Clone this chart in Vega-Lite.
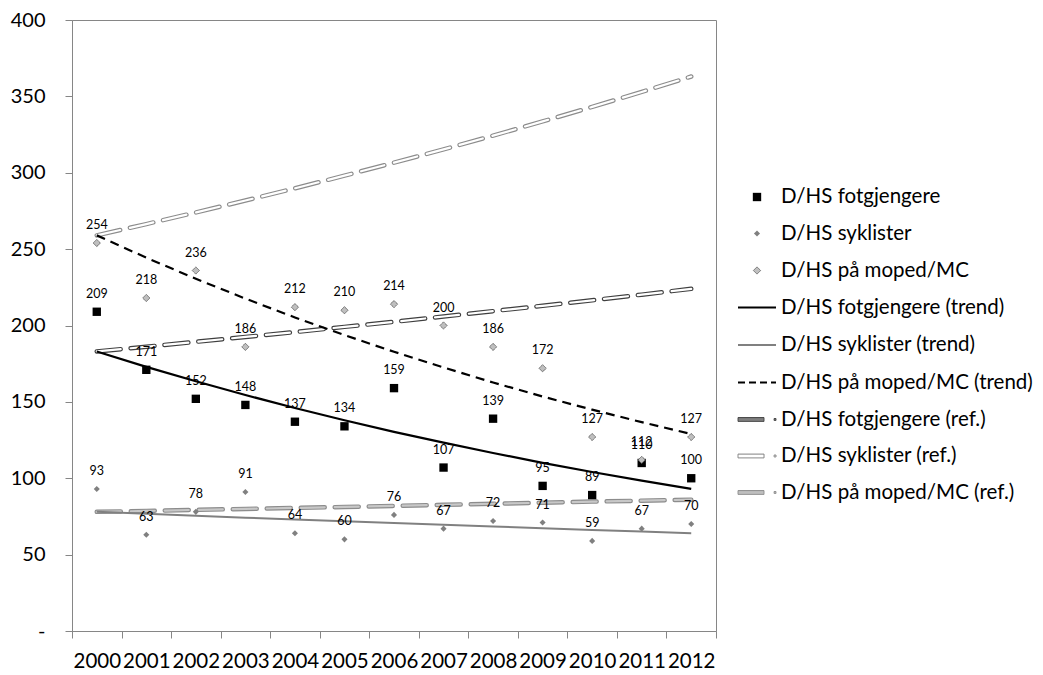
{
  "$schema": "https://vega.github.io/schema/vega-lite/v6.json",
  "width": 644,
  "height": 611,
  "autosize": {"type": "none"},
  "padding": {"left": 72, "top": 20, "right": 327, "bottom": 44},
  "background": "white",
  "config": {"view": {"stroke": "#868686", "strokeWidth": 1}, "font": "Lato"},
  "data": {"values": [
    {"year": "2000", "D/HS fotgjengere": 209, "D/HS syklister": 93, "D/HS på moped/MC": 254, "pt": 183, "st": 78, "mt": 259, "pr": 183, "sr": 78, "mr": 259},
    {"year": "2001", "D/HS fotgjengere": 171, "D/HS syklister": 63, "D/HS på moped/MC": 218, "pt": 172.9, "st": 76.7, "mt": 244.4, "pr": 186.1, "sr": 78.6, "mr": 266.4},
    {"year": "2002", "D/HS fotgjengere": 152, "D/HS syklister": 78, "D/HS på moped/MC": 236, "pt": 163.5, "st": 75.5, "mt": 230.6, "pr": 189.3, "sr": 79.3, "mr": 274.0},
    {"year": "2003", "D/HS fotgjengere": 148, "D/HS syklister": 91, "D/HS på moped/MC": 186, "pt": 154.5, "st": 74.2, "mt": 217.6, "pr": 192.5, "sr": 79.9, "mr": 281.8},
    {"year": "2004", "D/HS fotgjengere": 137, "D/HS syklister": 64, "D/HS på moped/MC": 212, "pt": 146.0, "st": 73.0, "mt": 205.3, "pr": 195.7, "sr": 80.6, "mr": 289.8},
    {"year": "2005", "D/HS fotgjengere": 134, "D/HS syklister": 60, "D/HS på moped/MC": 210, "pt": 138.0, "st": 71.8, "mt": 193.7, "pr": 199.1, "sr": 81.2, "mr": 298.1},
    {"year": "2006", "D/HS fotgjengere": 159, "D/HS syklister": 76, "D/HS på moped/MC": 214, "pt": 130.4, "st": 70.7, "mt": 182.8, "pr": 202.4, "sr": 81.9, "mr": 306.6},
    {"year": "2007", "D/HS fotgjengere": 107, "D/HS syklister": 67, "D/HS på moped/MC": 200, "pt": 123.3, "st": 69.5, "mt": 172.5, "pr": 205.9, "sr": 82.6, "mr": 315.3},
    {"year": "2008", "D/HS fotgjengere": 139, "D/HS syklister": 72, "D/HS på moped/MC": 186, "pt": 116.5, "st": 68.4, "mt": 162.7, "pr": 209.4, "sr": 83.3, "mr": 324.3},
    {"year": "2009", "D/HS fotgjengere": 95, "D/HS syklister": 71, "D/HS på moped/MC": 172, "pt": 110.1, "st": 67.3, "mt": 153.5, "pr": 212.9, "sr": 84.0, "mr": 333.6},
    {"year": "2010", "D/HS fotgjengere": 89, "D/HS syklister": 59, "D/HS på moped/MC": 127, "pt": 104.1, "st": 66.2, "mt": 144.9, "pr": 216.5, "sr": 84.7, "mr": 343.1},
    {"year": "2011", "D/HS fotgjengere": 110, "D/HS syklister": 67, "D/HS på moped/MC": 112, "pt": 98.4, "st": 65.1, "mt": 136.7, "pr": 220.2, "sr": 85.3, "mr": 352.9},
    {"year": "2012", "D/HS fotgjengere": 100, "D/HS syklister": 70, "D/HS på moped/MC": 127, "pt": 93.0, "st": 64.0, "mt": 129.0, "pr": 224.0, "sr": 86.0, "mr": 363.0}
  ]},
  "transform": [
    {"fold": ["D/HS fotgjengere", "D/HS syklister", "D/HS på moped/MC", "pt", "st", "mt", "pr", "sr", "mr"], "as": ["series", "value"]}
  ],
  "encoding": {
    "x": {
      "field": "year", "type": "ordinal",
      "scale": {"type": "band", "paddingInner": 0, "paddingOuter": 0},
      "axis": {"title": null, "tickBand": "extent", "labelAngle": 0, "tickSize": 7, "labelPadding": 13, "labelFontSize": 20.5, "labelFont": "Lato", "labelColor": "#000000", "domainColor": "#868686", "tickColor": "#868686", "grid": false}
    },
    "y": {
      "field": "value", "type": "quantitative",
      "scale": {"domain": [0, 400], "nice": false, "zero": true},
      "axis": {"title": null, "values": [0, 50, 100, 150, 200, 250, 300, 350, 400], "labelExpr": "datum.value == 0 ? '-' : datum.label", "grid": false, "tickSize": 7, "labelPadding": 20, "labelFontSize": 20, "labelFont": "Lato", "labelColor": "#000000", "domainColor": "#868686", "tickColor": "#868686"}
    }
  },
  "layer": [
    {"transform": [{"filter": "datum.series == 'mr'"}], "mark": {"type": "line", "stroke": "#8c8c8c", "strokeWidth": 4.5, "strokeDash": [24, 10], "strokeCap": "round"}},
    {"transform": [{"filter": "datum.series == 'mr'"}], "mark": {"type": "line", "stroke": "#ffffff", "strokeWidth": 2.2, "strokeDash": [24, 10], "strokeCap": "round"}},
    {"transform": [{"filter": "datum.series == 'pr'"}], "mark": {"type": "line", "stroke": "#3f3f3f", "strokeWidth": 4.5, "strokeDash": [24, 10], "strokeCap": "round"}},
    {"transform": [{"filter": "datum.series == 'pr'"}], "mark": {"type": "line", "stroke": "#ffffff", "strokeWidth": 2.2, "strokeDash": [24, 10], "strokeCap": "round"}},
    {"transform": [{"filter": "datum.series == 'sr'"}], "mark": {"type": "line", "stroke": "#8c8c8c", "strokeWidth": 4.5, "strokeDash": [24, 10], "strokeCap": "round"}},
    {"transform": [{"filter": "datum.series == 'sr'"}], "mark": {"type": "line", "stroke": "#c8c8c8", "strokeWidth": 2.2, "strokeDash": [24, 10], "strokeCap": "round"}},
    {"transform": [{"filter": "datum.series == 'pt'"}], "mark": {"type": "line", "stroke": "#000000", "strokeWidth": 2.2}},
    {"transform": [{"filter": "datum.series == 'st'"}], "mark": {"type": "line", "stroke": "#808080", "strokeWidth": 2}},
    {"transform": [{"filter": "datum.series == 'mt'"}], "mark": {"type": "line", "stroke": "#000000", "strokeWidth": 2.2, "strokeDash": [9, 6]}},
    {
      "transform": [{"filter": {"field": "series", "oneOf": ["D/HS fotgjengere", "D/HS syklister", "D/HS på moped/MC"]}}],
      "mark": {"type": "point", "filled": true, "size": 1444, "opacity": 1},
      "encoding": {
        "shape": {
          "field": "series", "type": "nominal",
          "scale": {
            "domain": ["D/HS fotgjengere", "D/HS syklister", "D/HS på moped/MC", "D/HS fotgjengere (trend)", "D/HS syklister (trend)", "D/HS på moped/MC (trend)", "D/HS fotgjengere (ref.)", "D/HS syklister (ref.)", "D/HS på moped/MC (ref.)"],
            "range": [
              "M-0.22,-0.22H0.22V0.22H-0.22Z",
              "M0,-0.16L0.16,0L0,0.16L-0.16,0Z",
              "M0,-0.19L0.19,0L0,0.19L-0.19,0Z",
              "M-1,0H1",
              "M-1,0H1",
              "M-1,0H1",
              "M-1,-0.1H0.37V0.1H-1Z M0.9,-0.05H1V0.05H0.9Z",
              "M-1,-0.1H0.37V0.1H-1Z M0.9,-0.05H1V0.05H0.9Z",
              "M-1,-0.1H0.37V0.1H-1Z M0.9,-0.05H1V0.05H0.9Z"
            ]
          },
          "legend": {
            "title": null, "orient": "none", "legendX": 665, "legendY": 158,
            "labelFont": "Lato", "labelFontSize": 20.5, "labelColor": "#000000", "labelLimit": 400,
            "symbolSize": 1444, "labelOffset": 4, "rowPadding": 6.5
          }
        },
        "fill": {
          "field": "series", "type": "nominal",
          "scale": {
            "domain": ["D/HS fotgjengere", "D/HS syklister", "D/HS på moped/MC", "D/HS fotgjengere (trend)", "D/HS syklister (trend)", "D/HS på moped/MC (trend)", "D/HS fotgjengere (ref.)", "D/HS syklister (ref.)", "D/HS på moped/MC (ref.)"],
            "range": ["#000000", "#808080", "#bfbfbf", "transparent", "transparent", "transparent", "#7f7f7f", "#ffffff", "#bfbfbf"]
          },
          "legend": {"title": null}
        },
        "stroke": {
          "field": "series", "type": "nominal",
          "scale": {
            "domain": ["D/HS fotgjengere", "D/HS syklister", "D/HS på moped/MC", "D/HS fotgjengere (trend)", "D/HS syklister (trend)", "D/HS på moped/MC (trend)", "D/HS fotgjengere (ref.)", "D/HS syklister (ref.)", "D/HS på moped/MC (ref.)"],
            "range": ["#000000", "#808080", "#595959", "#000000", "#808080", "#000000", "#404040", "#808080", "#8c8c8c"]
          },
          "legend": {"title": null}
        },
        "strokeWidth": {
          "field": "series", "type": "nominal",
          "scale": {
            "type": "ordinal",
            "domain": ["D/HS fotgjengere", "D/HS syklister", "D/HS på moped/MC", "D/HS fotgjengere (trend)", "D/HS syklister (trend)", "D/HS på moped/MC (trend)", "D/HS fotgjengere (ref.)", "D/HS syklister (ref.)", "D/HS på moped/MC (ref.)"],
            "range": [0, 0, 0.8, 2, 2, 2, 1, 1, 1]
          },
          "legend": {"title": null}
        },
        "strokeDash": {
          "field": "series", "type": "nominal",
          "scale": {
            "domain": ["D/HS fotgjengere", "D/HS syklister", "D/HS på moped/MC", "D/HS fotgjengere (trend)", "D/HS syklister (trend)", "D/HS på moped/MC (trend)", "D/HS fotgjengere (ref.)", "D/HS syklister (ref.)", "D/HS på moped/MC (ref.)"],
            "range": [[1, 0], [1, 0], [1, 0], [1, 0], [1, 0], [7, 4], [1, 0], [1, 0], [1, 0]]
          },
          "legend": {"title": null}
        }
      }
    },
    {
      "transform": [{"filter": {"field": "series", "oneOf": ["D/HS fotgjengere", "D/HS syklister", "D/HS på moped/MC"]}}],
      "mark": {"type": "text", "dy": -18, "fontSize": 12.5, "font": "Lato", "color": "#000000", "baseline": "middle"},
      "encoding": {"text": {"field": "value", "type": "quantitative"}}
    }
  ]
}
